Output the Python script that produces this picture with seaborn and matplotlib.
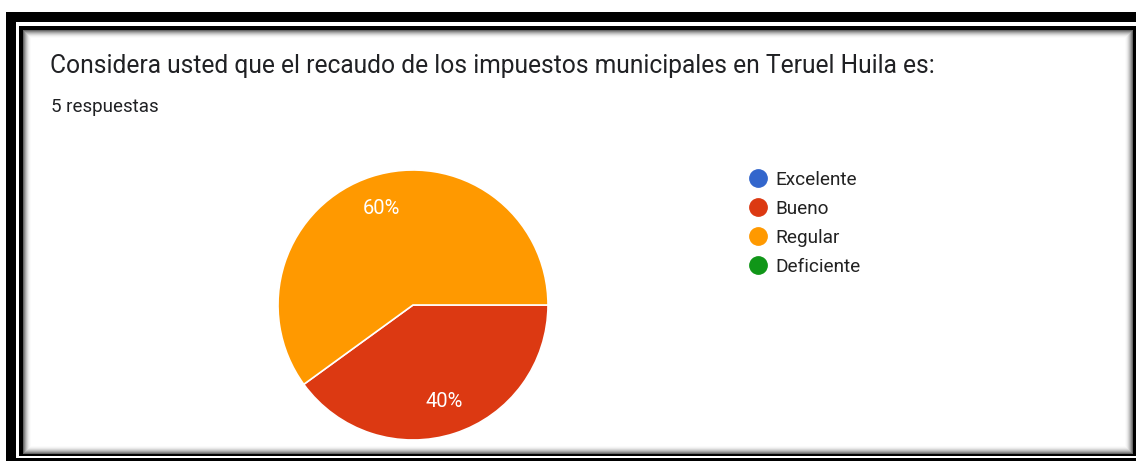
"""Pie chart: recaudo de impuestos municipales en Teruel Huila."""

import matplotlib

matplotlib.use("Agg")
import matplotlib.pyplot as plt
from matplotlib.lines import Line2D
from matplotlib.patches import Rectangle
import seaborn as sns

categories = ["Excelente", "Bueno", "Regular", "Deficiente"]
counts = [0, 2, 3, 0]
colors = ["#3366CC", "#DC3912", "#FF9900", "#109618"]
title = "Considera usted que el recaudo de los impuestos municipales en Teruel Huila es:"
subtitle = "5 respuestas"

sns.set_theme(style="white")
plt.rcParams["font.family"] = ["Roboto", "DejaVu Sans"]

W, H = 1136, 461
fig = plt.figure(figsize=(W / 100, H / 100), dpi=100)
fig.patch.set_facecolor("white")

# background frame in pixel coordinates
bg = fig.add_axes([0, 0, 1, 1])
bg.set_xlim(0, W)
bg.set_ylim(H, 0)
bg.axis("off")
bg.add_patch(Rectangle((6, 12), W, H, facecolor="black", lw=0))
bg.add_patch(Rectangle((16, 22), W, 436, facecolor="white", lw=0))
bg.add_patch(Rectangle((19, 26), W, 430, facecolor="black", lw=0))
# soft inner shadow
shades = ["#666666", "#888888", "#a6a6a6", "#c0c0c0", "#d6d6d6", "#e8e8e8", "#f4f4f4", "#fbfbfb"]
x0, y0, x1, y1 = 23, 30, 1133, 454
for i, c in enumerate(shades):
    bg.add_patch(Rectangle((x0 + i, y0 + i), x1 - x0 - 2 * i, y1 - y0 - 2 * i,
                           facecolor=c, lw=0))
bg.add_patch(Rectangle((x0 + 8, y0 + 8), x1 - x0 - 16, y1 - y0 - 16,
                       facecolor="white", lw=0))

fig.text(50 / W, 1 - 73 / H, title, fontsize=17.75, color="#202124", va="baseline")
fig.text(51 / W, 1 - 112 / H, subtitle, fontsize=13.5, color="#202124", va="baseline")

# pie
cx, cy, r = 413, 305, 135
ax = fig.add_axes([(cx - r) / W, (H - cy - r) / H, 2 * r / W, 2 * r / H])
vals = [v for v in counts if v > 0]
cols = [c for c, v in zip(colors, counts) if v > 0]
wedges, texts, autotexts = ax.pie(
    vals,
    colors=cols,
    startangle=0,
    counterclock=False,
    autopct="%1.0f%%",
    pctdistance=0.75,
    wedgeprops=dict(edgecolor="white", linewidth=1.2),
    textprops=dict(color="white", fontsize=14.5),
)
ax.set_xlim(-1, 1)
ax.set_ylim(-1, 1)

handles = [
    Line2D([], [], marker="o", linestyle="", markersize=12.5,
           markerfacecolor=c, markeredgecolor=c)
    for c in colors
]
fig.legend(
    handles, categories,
    loc="upper left",
    bbox_to_anchor=(749.5 / W, 1 - 171 / H),
    frameon=False,
    fontsize=13.7,
    handlelength=0.9,
    handletextpad=0.45,
    labelspacing=0.57,
    borderpad=0,
    borderaxespad=0,
    labelcolor="#222222",
)

fig.savefig("out.png", dpi=100)
